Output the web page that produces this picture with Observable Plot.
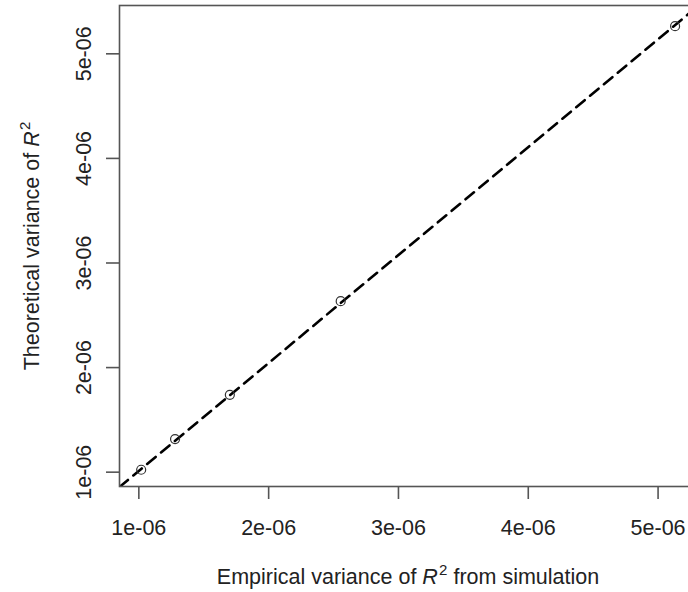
<!DOCTYPE html>
<html>
<head>
<meta charset="utf-8">
<script src="https://cdn.jsdelivr.net/npm/d3@7"></script>
<script src="https://cdn.jsdelivr.net/npm/@observablehq/plot@0.6"></script>
<style>
  html, body { margin: 0; padding: 0; background: #fff; overflow: hidden; }
  #chart svg { overflow: hidden; }
</style>
</head>
<body>
<div id="chart"></div>
<script>
// Data
const empirical   = [1.018e-6, 1.279e-6, 1.701e-6, 2.555e-6, 5.131e-6];
const theoretical = [1.023e-6, 1.316e-6, 1.740e-6, 2.635e-6, 5.264e-6];
const xTicks = [1e-6, 2e-6, 3e-6, 4e-6, 5e-6];
const xTickLabels = ["1e-06", "2e-06", "3e-06", "4e-06", "5e-06"];
const yTicks = [1e-6, 2e-6, 3e-6, 4e-6, 5e-6];
const yTickLabels = ["1e-06", "2e-06", "3e-06", "4e-06", "5e-06"];
const xDomain = [0.851e-6, 5.296e-6];
const yDomain = [0.863e-6, 5.462e-6];
const lineSlope = 1.032;
const lineIntercept = -0.02e-6;
const xTitle = "Empirical variance of R^2 from simulation";
const yTitle = "Theoretical variance of R^2";

const points = empirical.map((x, i) => ({x, y: theoretical[i]}));
const abline = xDomain.map(x => ({x, y: lineIntercept + lineSlope * x}));
const xLab = new Map(xTicks.map((d, i) => [d, xTickLabels[i]]));
const yLab = new Map(yTicks.map((d, i) => [d, yTickLabels[i]]));

const font = "Liberation Sans, Arial, Helvetica, sans-serif";
const fs = 21.5;
const textColor = "#222";
const axisColor = "#555";

const chart = Plot.plot({
  width: 688,
  height: 592,
  marginLeft: 119,
  marginRight: -8,
  marginTop: 5,
  marginBottom: 106,
  style: {fontFamily: font, background: "#fff", color: textColor},
  x: {domain: xDomain, axis: null},
  y: {domain: yDomain, axis: null},
  marks: [
    Plot.line(abline, {x: "x", y: "y", stroke: "#000", strokeWidth: 2.6, strokeDasharray: "11,7", clip: "frame"}),
    Plot.dot(points, {x: "x", y: "y", r: 4.5, stroke: "#333", strokeWidth: 1.2, fill: "none"}),
    Plot.axisX(xTicks, {tickSize: 13, fill: "none", stroke: axisColor, strokeWidth: 1.6}),
    Plot.axisY(yTicks, {tickSize: 13, fill: "none", stroke: axisColor, strokeWidth: 1.6}),
    Plot.text(xTicks, {x: d => d, text: d => xLab.get(d), frameAnchor: "bottom", lineAnchor: "bottom", dy: 48, fontSize: fs, fill: textColor}),
    Plot.text(yTicks, {y: d => d, text: d => yLab.get(d), frameAnchor: "left", lineAnchor: "bottom", textAnchor: "middle", rotate: -90, dx: -29, fontSize: fs, fill: textColor}),
    Plot.text([xTitle], {text: d => d, frameAnchor: "bottom", lineAnchor: "bottom", dy: 97, fontSize: fs, fill: textColor}),
    Plot.text([yTitle], {text: d => d, frameAnchor: "left", lineAnchor: "bottom", textAnchor: "middle", rotate: -90, dx: -81, fontSize: fs, fill: textColor}),
    Plot.frame({stroke: axisColor, strokeWidth: 1.6})
  ]
});

// Render "R^2" as italic R with superscript 2
d3.select(chart).selectAll("text").each(function() {
  const t = this.textContent;
  if (!t.includes("R^2")) return;
  const [pre, post] = t.split("R^2");
  this.textContent = "";
  const sel = d3.select(this);
  sel.append("tspan").text(pre);
  sel.append("tspan").attr("font-style", "italic").text("R");
  sel.append("tspan").attr("font-size", "0.7em").attr("dy", "-0.55em").attr("dx", "0.08em").text("2");
  if (post) sel.append("tspan").attr("dy", "0.385em").text(post);
});

document.getElementById("chart").appendChild(chart);
</script>
</body>
</html>
